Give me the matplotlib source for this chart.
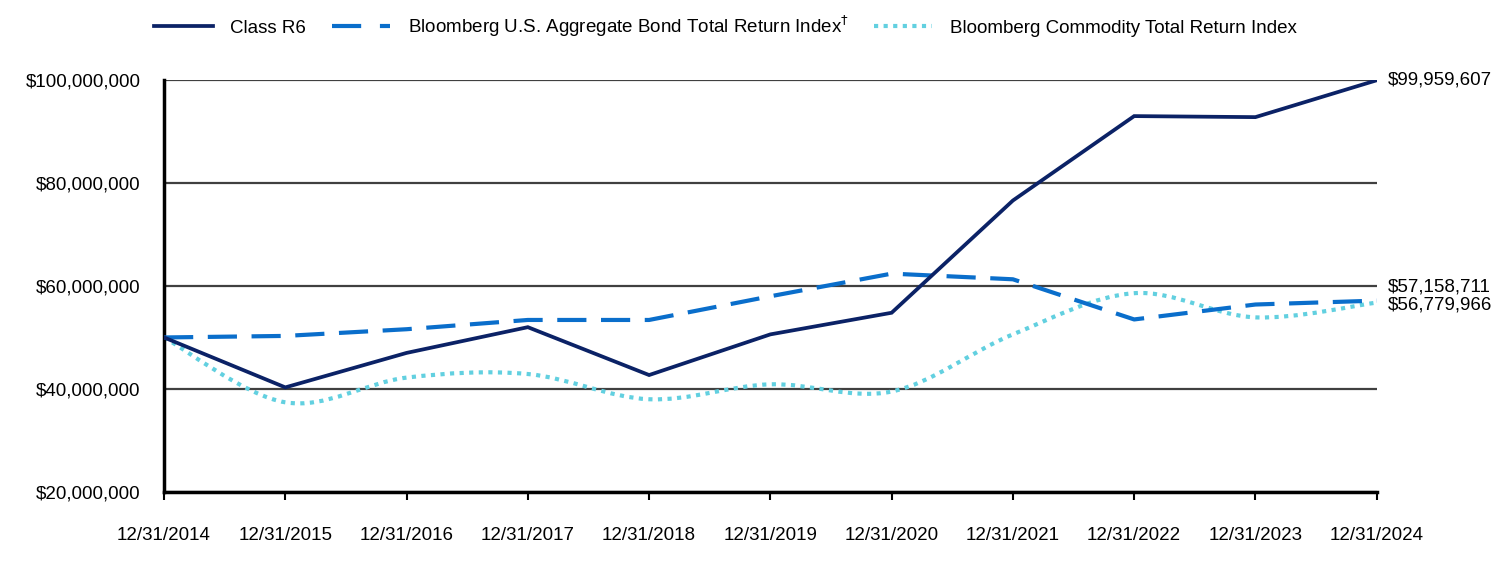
import matplotlib
matplotlib.use("Agg")
import matplotlib.pyplot as plt
from matplotlib.path import Path
from matplotlib.patches import PathPatch
from matplotlib.lines import Line2D
from matplotlib.ticker import FuncFormatter

plt.rcParams["font.family"] = ["Liberation Sans", "DejaVu Sans"]

# data
dates = ["12/31/2014", "12/31/2015", "12/31/2016", "12/31/2017", "12/31/2018", "12/31/2019",
         "12/31/2020", "12/31/2021", "12/31/2022", "12/31/2023", "12/31/2024"]
class_r6 = [50.0e6, 40.3e6, 47.0e6, 52.0e6, 42.7e6, 50.6e6, 54.8e6, 76.6e6, 93.0e6, 92.8e6, 99959607]
bond_idx = [50.0e6, 50.3e6, 51.6e6, 53.4e6, 53.4e6, 58.0e6, 62.4e6, 61.3e6, 53.5e6, 56.4e6, 57158711]
commodity_idx = [50.0e6, 37.4e6, 42.2e6, 42.9e6, 38.0e6, 40.9e6, 39.5e6, 50.6e6, 58.6e6, 53.9e6, 56779966]
end_labels = ["$99,959,607", "$57,158,711", "$56,779,966"]

c_r6 = "#0b2266"
c_bond = "#0a6ecb"
c_comm = "#62d0e0"
fs = 13.5

x = list(range(len(dates)))

fig = plt.figure(figsize=(15.12, 5.76), dpi=100)
ax = fig.add_axes([0.1085, 0.146, 0.802, 0.715])

ax.plot(x, class_r6, color=c_r6, lw=2.7, solid_joinstyle="miter", zorder=4)
ax.plot(x, bond_idx, color=c_bond, lw=3.0, dashes=(7, 3.5), zorder=3)


# smoothed line for the commodity index (Excel-style smoothing)
def smooth_path(xs, ys):
    verts = [(xs[0], ys[0])]
    codes = [Path.MOVETO]
    n = len(xs)
    for i in range(n - 1):
        x0, y0 = xs[max(i - 1, 0)], ys[max(i - 1, 0)]
        x1, y1 = xs[i], ys[i]
        x2, y2 = xs[i + 1], ys[i + 1]
        x3, y3 = xs[min(i + 2, n - 1)], ys[min(i + 2, n - 1)]
        verts += [(x1 + (x2 - x0) / 6, y1 + (y2 - y0) / 6),
                  (x2 - (x3 - x1) / 6, y2 - (y3 - y1) / 6),
                  (x2, y2)]
        codes += [Path.CURVE4] * 3
    return Path(verts, codes)


ax.add_patch(PathPatch(smooth_path(x, commodity_idx), facecolor="none", edgecolor=c_comm,
                       lw=3.0, linestyle=(0, (1, 1.3)), capstyle="butt", zorder=2))

ax.set_xlim(0, len(dates) - 1)
ax.set_ylim(20e6, 100e6)
ax.set_yticks([20e6, 40e6, 60e6, 80e6, 100e6])
ax.yaxis.set_major_formatter(FuncFormatter(lambda v, p: "${:,.0f}".format(v)))
ax.set_xticks(x)
ax.set_xticklabels(dates)
ax.grid(axis="y", color="#404040", lw=1.6)
ax.set_axisbelow(True)
for s in ["top", "right"]:
    ax.spines[s].set_visible(False)
for s in ["left", "bottom"]:
    ax.spines[s].set_linewidth(2.5)
    ax.spines[s].set_color("black")
ax.tick_params(axis="y", length=0, pad=17, labelsize=fs)
ax.tick_params(axis="x", length=6, width=1.5, direction="out", pad=19, labelsize=fs)

# end value labels
ax.annotate(end_labels[0], (x[-1], class_r6[-1]), xytext=(8, 0), textcoords="offset points",
            va="center", ha="left", fontsize=fs, annotation_clip=False)
ax.annotate(end_labels[1], (x[-1], bond_idx[-1]), xytext=(8, 10), textcoords="offset points",
            va="center", ha="left", fontsize=fs, annotation_clip=False)
ax.annotate(end_labels[2], (x[-1], commodity_idx[-1]), xytext=(8, -2), textcoords="offset points",
            va="center", ha="left", fontsize=fs, annotation_clip=False)

handles = [Line2D([], [], color=c_r6, lw=2.7),
           Line2D([], [], color=c_bond, lw=3.0, dashes=(7, 4.5)),
           Line2D([], [], color=c_comm, lw=3.0, linestyle=(0, (1, 1.3)))]
labels = ["Class R6", "Bloomberg U.S. Aggregate Bond Total Return Index$^{\\dagger}$",
          "Bloomberg Commodity Total Return Index"]
fig.legend(handles, labels, loc="upper left", bbox_to_anchor=(0.091, 1.006), ncol=3,
           frameon=False, fontsize=fs, handlelength=3.1, handletextpad=0.95, columnspacing=1.35)

fig.savefig("out.png", dpi=100)
